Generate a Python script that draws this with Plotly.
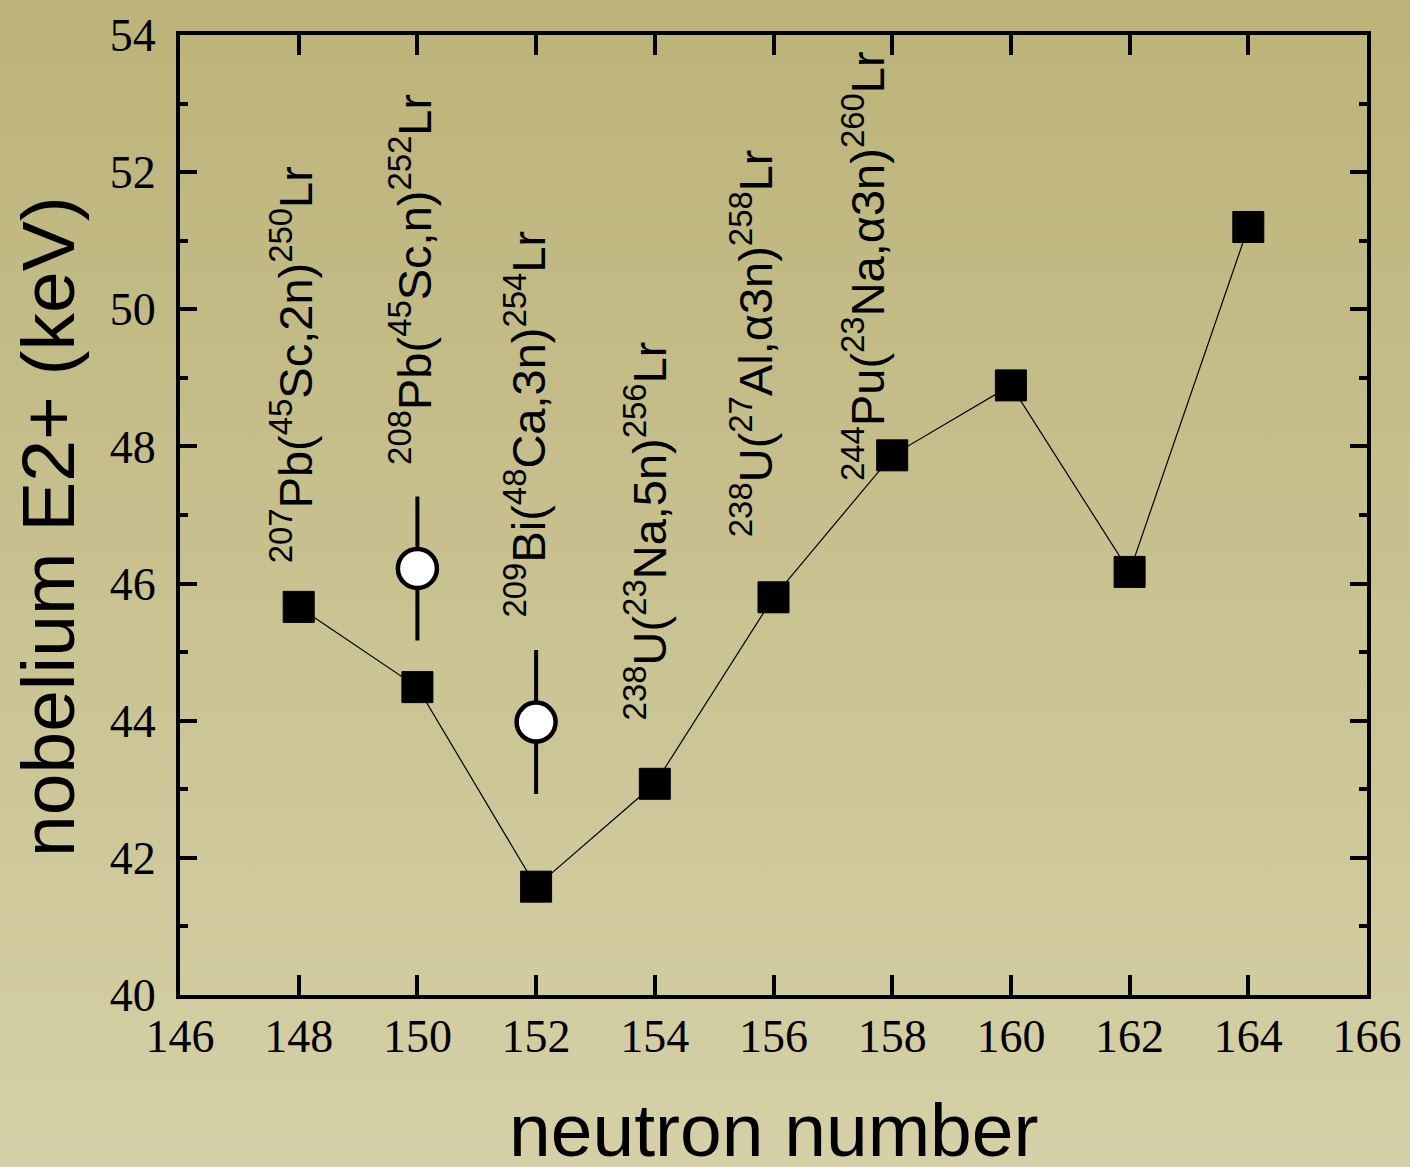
import base64
import plotly.graph_objects as go

# ---- data ----
neutron_number = [148, 150, 152, 154, 156, 158, 160, 162, 164]
e2_kev = [45.66, 44.49, 41.58, 43.08, 45.80, 47.87, 48.89, 46.17, 51.20]

exp_n = [150, 152]
exp_e2 = [46.22, 43.98]
exp_err = [1.05, 1.05]

reactions = [
    "<sup>207</sup>Pb(<sup>45</sup>Sc,2n)<sup>250</sup>Lr",
    "<sup>208</sup>Pb(<sup>45</sup>Sc,n)<sup>252</sup>Lr",
    "<sup>209</sup>Bi(<sup>48</sup>Ca,3n)<sup>254</sup>Lr",
    "<sup>238</sup>U(<sup>23</sup>Na,5n)<sup>256</sup>Lr",
    "<sup>238</sup>U(<sup>27</sup>Al,α3n)<sup>258</sup>Lr",
    "<sup>244</sup>Pu(<sup>23</sup>Na,α3n)<sup>260</sup>Lr",
]
reaction_n = [148, 150, 152, 154, 156, 158]
# label placement (layout only)
label_bottom = [46.27, 47.70, 45.47, 43.98, 46.64, 47.47]
label_xshift = [-7, -7, -10, -9, -22, -28]

x_ticks = list(range(146, 167, 2))
y_ticks = list(range(40, 55, 2))

x_title = "neutron number"
y_title = "nobelium E2+ (keV)"

# ---- figure ----
W, H = 1410, 1167
L, R, T, B = 180, 43, 35, 172
pw, ph = W - L - R, H - T - B

SERIF = "Liberation Serif"
SANS = "Liberation Sans"

svg = (
    f'<svg xmlns="http://www.w3.org/2000/svg" width="{W}" height="{H}" preserveAspectRatio="none">'
    '<defs><linearGradient id="g" x1="0" y1="0" x2="0" y2="1">'
    '<stop offset="0" stop-color="#BCB379"/><stop offset="1" stop-color="#D5D0A7"/>'
    '</linearGradient></defs>'
    f'<rect width="{W}" height="{H}" fill="url(#g)"/></svg>'
)
bg_src = "data:image/svg+xml;base64," + base64.b64encode(svg.encode()).decode()

fig = go.Figure()

fig.add_trace(go.Scatter(
    x=neutron_number, y=e2_kev, mode="lines+markers",
    line=dict(color="black", width=1.2),
    marker=dict(symbol="square", size=31, color="black",
                line=dict(color="black", width=1)),
    showlegend=False, hoverinfo="x+y",
))

fig.add_trace(go.Scatter(
    x=exp_n, y=exp_e2, mode="markers",
    error_y=dict(type="data", array=exp_err, visible=True,
                 color="black", thickness=4, width=0),
    marker=dict(symbol="circle", size=39, color="white",
                line=dict(color="black", width=4.5)),
    showlegend=False, hoverinfo="x+y",
))

for txt, xn, yb, xs in zip(reactions, reaction_n, label_bottom, label_xshift):
    fig.add_annotation(
        x=xn, y=yb, xref="x", yref="y", text=txt, showarrow=False,
        textangle=-90, xanchor="center", yanchor="bottom", xshift=xs,
        font=dict(family=SANS, size=47, color="black"),
    )

# axis titles as annotations for exact placement
fig.add_annotation(
    x=0.5, y=0, xref="paper", yref="paper", text=x_title, showarrow=False,
    xanchor="center", yanchor="bottom", yshift=-179,
    font=dict(family=SANS, size=75, color="black"),
)
fig.add_annotation(
    x=0, y=0.5, xref="paper", yref="paper", text=y_title, showarrow=False,
    textangle=-90, xanchor="right", yanchor="middle", xshift=-88, yshift=-12,
    font=dict(family=SANS, size=75, color="black"),
)

fig.add_layout_image(dict(
    source=bg_src, xref="paper", yref="paper",
    x=-L / pw, y=1 + T / ph, sizex=W / pw, sizey=H / ph,
    xanchor="left", yanchor="top", sizing="stretch", layer="below",
))

axis_common = dict(
    showline=True, linecolor="black", linewidth=4, mirror="allticks",
    ticks="inside", tickcolor="black", tickwidth=4,
    showgrid=False, zeroline=False,
    tickfont=dict(family=SERIF, size=46, color="black"),
)

fig.update_xaxes(
    range=[146, 166], tickvals=x_ticks, ticklen=20, ticklabelstandoff=-2,
    **axis_common,
)
fig.update_yaxes(
    range=[40, 54], tickvals=y_ticks, ticklen=17, ticklabelstandoff=11,
    minor=dict(dtick=1, ticklen=8, tickwidth=4, tickcolor="black", ticks="inside"),
    **axis_common,
)

fig.update_layout(
    width=W, height=H,
    font=dict(family=SANS, color="black"),
    margin=dict(l=L, r=R, t=T, b=B, autoexpand=False),
    paper_bgcolor="#C8C190", plot_bgcolor="rgba(0,0,0,0)",
)

fig.write_html("out.html")
